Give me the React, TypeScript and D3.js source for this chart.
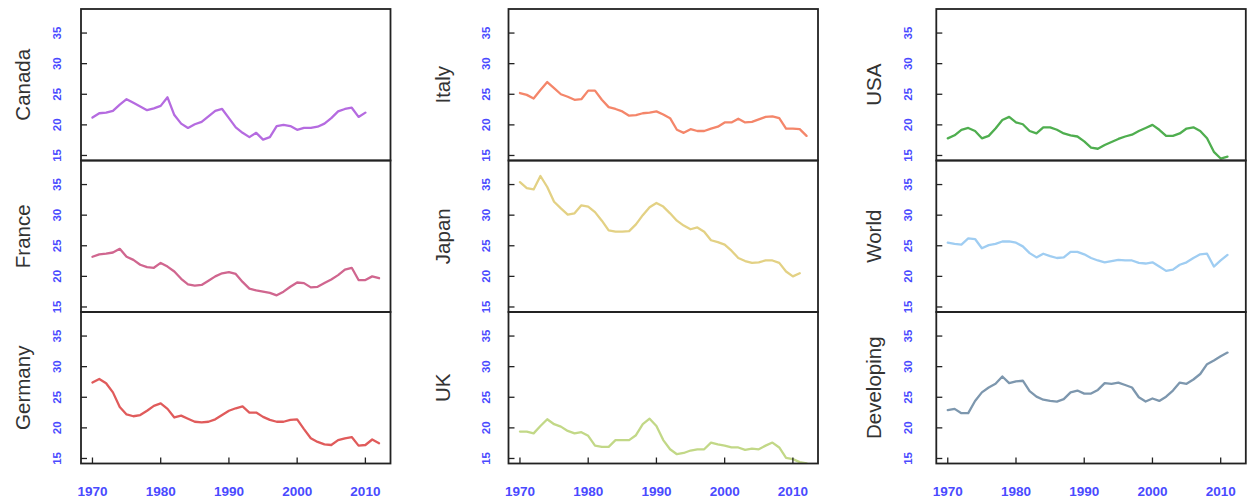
import React from "react";
import * as d3 from "d3";

const years: number[] = d3.range(1970, 2013);

const canada = [21.2, 21.9, 22.0, 22.3, 23.3, 24.2, 23.6, 23.0, 22.4, 22.7, 23.1, 24.5, 21.6, 20.2, 19.5, 20.1, 20.5, 21.4, 22.3, 22.6, 21.1, 19.6, 18.7, 18.0, 18.7, 17.6, 18.0, 19.8, 20.0, 19.8, 19.2, 19.5, 19.5, 19.7, 20.2, 21.1, 22.2, 22.6, 22.8, 21.3, 22.0];
const france = [23.2, 23.6, 23.7, 23.9, 24.5, 23.2, 22.7, 21.9, 21.5, 21.4, 22.2, 21.6, 20.8, 19.6, 18.7, 18.5, 18.6, 19.3, 20.0, 20.5, 20.7, 20.4, 19.1, 18.0, 17.7, 17.5, 17.3, 16.9, 17.5, 18.3, 19.0, 18.9, 18.2, 18.3, 18.9, 19.5, 20.2, 21.1, 21.4, 19.4, 19.4, 20.0, 19.7];
const germany = [27.4, 28.0, 27.3, 25.8, 23.4, 22.2, 21.9, 22.1, 22.8, 23.6, 24.0, 23.1, 21.7, 22.0, 21.5, 21.0, 20.9, 21.0, 21.4, 22.1, 22.8, 23.2, 23.5, 22.5, 22.5, 21.8, 21.3, 21.0, 21.0, 21.3, 21.4, 19.8, 18.3, 17.7, 17.3, 17.2, 18.0, 18.3, 18.5, 17.1, 17.2, 18.1, 17.5];
const italy = [25.2, 24.9, 24.3, 25.7, 27.0, 26.0, 25.0, 24.6, 24.1, 24.2, 25.6, 25.6, 24.1, 22.9, 22.6, 22.2, 21.5, 21.6, 21.9, 22.0, 22.2, 21.7, 21.1, 19.2, 18.7, 19.3, 19.0, 19.0, 19.4, 19.7, 20.4, 20.4, 21.0, 20.4, 20.5, 20.9, 21.3, 21.4, 21.1, 19.4, 19.4, 19.3, 18.2];
const japan = [35.4, 34.4, 34.2, 36.4, 34.6, 32.2, 31.1, 30.1, 30.3, 31.6, 31.4, 30.5, 29.1, 27.5, 27.3, 27.3, 27.4, 28.5, 30.0, 31.3, 32.0, 31.4, 30.3, 29.1, 28.3, 27.7, 28.0, 27.3, 25.9, 25.6, 25.2, 24.2, 23.0, 22.5, 22.2, 22.3, 22.6, 22.6, 22.2, 20.8, 20.0, 20.5];
const uk = [19.4, 19.4, 19.1, 20.3, 21.4, 20.6, 20.2, 19.5, 19.1, 19.3, 18.7, 17.1, 16.9, 16.9, 18.0, 18.0, 18.0, 18.8, 20.6, 21.5, 20.3, 18.0, 16.5, 15.7, 15.9, 16.3, 16.5, 16.5, 17.6, 17.3, 17.1, 16.8, 16.8, 16.4, 16.6, 16.5, 17.1, 17.6, 16.8, 15.1, 14.9, 14.4, 14.2];
const usa = [17.8, 18.3, 19.2, 19.5, 19.0, 17.8, 18.2, 19.4, 20.8, 21.3, 20.4, 20.1, 19.0, 18.6, 19.6, 19.6, 19.2, 18.6, 18.3, 18.1, 17.3, 16.3, 16.1, 16.7, 17.2, 17.7, 18.1, 18.4, 19.0, 19.5, 20.0, 19.2, 18.2, 18.2, 18.6, 19.4, 19.6, 19.0, 17.8, 15.6, 14.5, 14.8];
const world = [25.5, 25.3, 25.2, 26.2, 26.1, 24.6, 25.1, 25.3, 25.7, 25.7, 25.5, 24.9, 23.8, 23.1, 23.7, 23.3, 23.0, 23.1, 24.0, 24.0, 23.6, 23.0, 22.6, 22.3, 22.5, 22.7, 22.6, 22.6, 22.2, 22.1, 22.3, 21.6, 20.9, 21.1, 21.9, 22.3, 23.0, 23.6, 23.7, 21.6, 22.6, 23.5];
const developing = [22.9, 23.1, 22.4, 22.4, 24.4, 25.8, 26.6, 27.2, 28.4, 27.3, 27.6, 27.7, 26.0, 25.1, 24.6, 24.4, 24.3, 24.7, 25.8, 26.1, 25.6, 25.6, 26.2, 27.3, 27.2, 27.4, 27.0, 26.6, 25.0, 24.3, 24.8, 24.4, 25.1, 26.1, 27.4, 27.2, 27.9, 28.8, 30.4, 31.0, 31.7, 32.3];

const yTicks = [15, 20, 25, 30, 35];
const xTicks = [1970, 1980, 1990, 2000, 2010];

const panelNames = ["Canada", "France", "Germany", "Italy", "Japan", "UK", "USA", "World", "Developing"];
const panelSeries = [canada, france, germany, italy, japan, uk, usa, world, developing];
const panelColors = ["#b56be0", "#d0668f", "#e05b5b", "#f4866a", "#e3d184", "#c2d887", "#4fae4f", "#9fcdf2", "#7d97ae"];

const colLeft = [81, 508.5, 936.3];
const rowTop = [9, 160.5, 312];
const panelW = 309.5;
const panelH = 151.5;
const yLabelOffset = [20.5, 18.5, 24];
const titleX = [30, 450, 881];

export default function App() {
  const tickBlue = "#4a4aff";
  return (
    <svg
      width={1251}
      height={502}
      style={{ position: "absolute", left: 0, top: 0, background: "#fff" }}
      fontFamily="'Liberation Sans', Arial, Helvetica, sans-serif"
    >
      <rect x={0} y={0} width={1251} height={502} fill="#fff" />
      <defs>
        {panelNames.map((_, i) => {
          const c = Math.floor(i / 3);
          const r = i % 3;
          return (
            <clipPath id={`clip${i}`} key={i}>
              <rect x={colLeft[c]} y={rowTop[r]} width={panelW} height={panelH} />
            </clipPath>
          );
        })}
      </defs>
      {panelNames.map((name, i) => {
        const c = Math.floor(i / 3);
        const r = i % 3;
        const left = colLeft[c];
        const top = rowTop[r];
        const x = d3.scaleLinear().domain([1968.32, 2013.68]).range([left, left + panelW]);
        const y = d3.scaleLinear().domain([14.18, 38.93]).range([top + panelH, top]);
        const vals = panelSeries[i];
        const line = d3
          .line<number>()
          .x((_, k) => x(years[k]))
          .y((v) => y(v))
          .curve(d3.curveLinear);
        const path = line(vals) || "";
        const bottom = top + panelH;
        return (
          <g key={name}>
            <path
              d={path}
              fill="none"
              stroke={panelColors[i]}
              strokeWidth={2.3}
              strokeLinejoin="round"
              strokeLinecap="round"
              clipPath={`url(#clip${i})`}
            />
            {yTicks.map((t) => (
              <g key={t}>
                <line x1={left} x2={left + 6} y1={y(t)} y2={y(t)} stroke="#222" strokeWidth={1.3} />
                <text
                  transform={`translate(${left - yLabelOffset[c]},${y(t)}) rotate(-90)`}
                  textAnchor="middle"
                  fontSize={11.5}
                  fontWeight="bold"
                  fill={tickBlue}
                >
                  {t}
                </text>
              </g>
            ))}
            {r === 2 &&
              xTicks.map((t) => (
                <g key={t}>
                  <line x1={x(t)} x2={x(t)} y1={bottom} y2={bottom - 6} stroke="#222" strokeWidth={1.3} />
                  <text x={x(t)} y={495.5} textAnchor="middle" fontSize={13.5} fontWeight="bold" fill={tickBlue}>
                    {t}
                  </text>
                </g>
              ))}
            <rect x={left} y={top} width={panelW} height={panelH} fill="none" stroke="#222" strokeWidth={1.8} />
            <text
              transform={`translate(${titleX[c]},${top + panelH / 2}) rotate(-90)`}
              textAnchor="middle"
              fontSize={20.5}
              fill="#333"
            >
              {name}
            </text>
          </g>
        );
      })}
    </svg>
  );
}
